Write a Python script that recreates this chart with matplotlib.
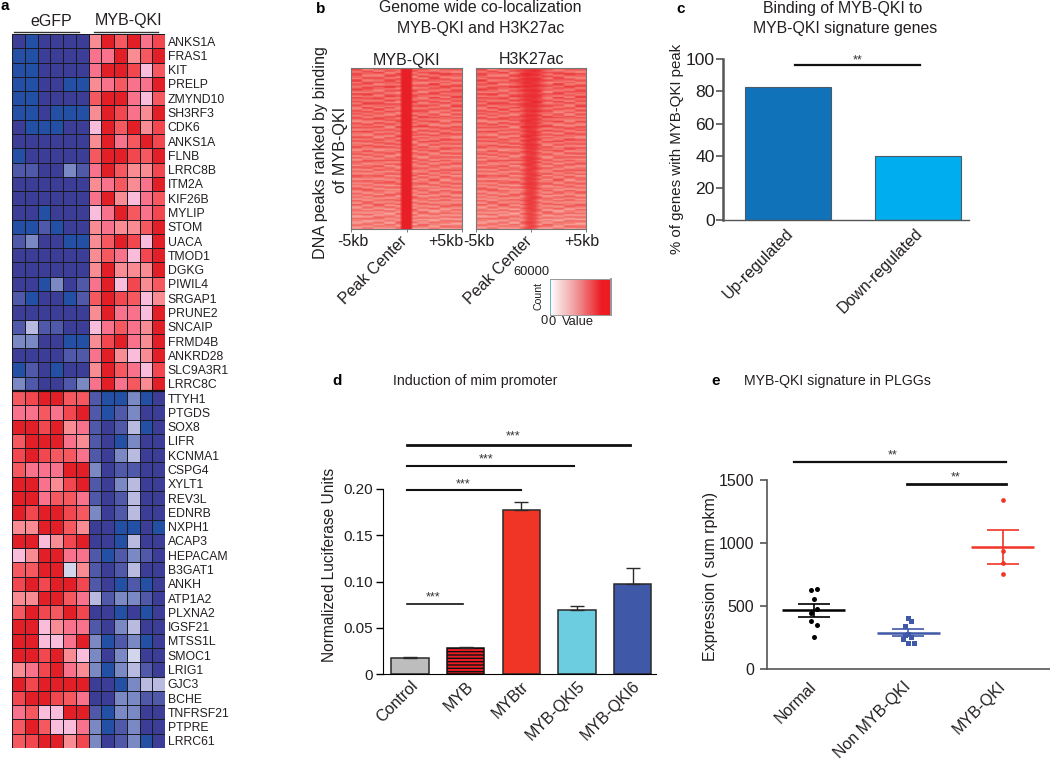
import numpy as np
import matplotlib
matplotlib.use("Agg")
import matplotlib.pyplot as plt
from matplotlib.colors import ListedColormap, LinearSegmentedColormap
from matplotlib.transforms import ScaledTranslation

plt.rcParams['font.family'] = ['Liberation Sans', 'DejaVu Sans']
plt.rcParams['hatch.linewidth'] = 1.0
W, H = 1050, 763
TXT = '#231f20'

genes = ["ANKS1A","FRAS1","KIT","PRELP","ZMYND10","SH3RF3","CDK6","ANKS1A","FLNB","LRRC8B",
         "ITM2A","KIF26B","MYLIP","STOM","UACA","TMOD1","DGKG","PIWIL4","SRGAP1","PRUNE2",
         "SNCAIP","FRMD4B","ANKRD28","SLC9A3R1","LRRC8C","TTYH1","PTGDS","SOX8","LIFR","KCNMA1",
         "CSPG4","XYLT1","REV3L","EDNRB","NXPH1","ACAP3","HEPACAM","B3GAT1","ANKH","ATP1A2",
         "PLXNA2","IGSF21","MTSS1L","SMOC1","LRIG1","GJC3","BCHE","TNFRSF21","PTPRE","LRRC61"]
heat_up = [
 [-5,-6,-5,-5,-5,-5, 2,6,4,6,3,5],[-6,-6,-5,-5,-5,-5, 3,3,6,2,4,6],[-6,-6,-5,-5,-5,-5, 3,6,6,5,1,4],
 [-6,-6,-5,-5,-6,-6, 2,3,4,3,3,6],[-6,-6,-5,-5,-5,-5, 4,6,6,3,1,4],[-6,-6,-5,-6,-6,-6, 2,6,5,3,2,6],
 [-5,-6,-6,-6,-5,-5, 1,6,4,6,2,5],[-5,-5,-5,-5,-5,-5, 2,6,3,4,6,5],[-6,-5,-5,-5,-5,-5, 4,6,6,5,4,6],
 [-4,-4,-5,-5,-3,-4, 3,6,4,2,2,5],[-5,-5,-5,-5,-5,-5, 2,3,4,2,3,6],[-5,-5,-5,-5,-5,-5, 3,6,2,1,3,4],
 [-5,-5,-6,-5,-5,-5, 1,3,6,4,3,5],[-6,-6,-4,-6,-5,-5, 2,3,2,2,4,6],[-4,-3,-5,-5,-6,-6, 2,4,6,5,1,6],
 [-5,-5,-5,-5,-5,-5, 2,4,3,1,5,6],[-5,-5,-5,-5,-5,-5, 2,6,2,2,2,6],[-5,-5,-6,-3,-5,-4, 3,6,1,5,2,4],
 [-4,-6,-5,-5,-6,-4, 4,6,5,4,1,2],[-5,-5,-5,-5,-5,-5, 2,6,3,3,1,6],[-4,-2,-4,-4,-5,-5, 1,3,4,3,2,6],
 [-3,-3,-5,-5,-6,-6, 2,5,6,3,2,6],[-5,-5,-5,-5,-4,-4, 3,6,2,1,2,6],[-6,-4,-5,-6,-5,-5, 2,6,4,3,1,5],
 [-3,-4,-5,-5,-4,-3, 3,6,3,4,2,6]]
heat_down = [
 [4,5,6,6,4,4,-4,-6,-6,-3,-6,-5],[3,3,4,3,5,6,-4,-6,-4,-3,-5,-5],[6,6,5,6,2,3,-4,-5,-4,-2,-6,-5],
 [4,6,6,6,3,2,-4,-5,-6,-3,-5,-5],[5,6,5,4,4,3,-4,-5,-3,-2,-5,-5],[4,3,3,3,6,6,-3,-5,-4,-4,-5,-5],
 [6,6,3,2,5,6,-4,-5,-3,-2,-5,-5],[6,6,3,4,4,3,-4,-5,-4,-2,-5,-5],[6,5,6,6,5,4,-3,-5,-4,-2,-5,-5],
 [2,2,6,6,4,2,-5,-5,-6,-6,-5,-6],[6,6,1,2,5,6,-5,-5,-6,-2,-5,-5],[1,2,6,6,3,3,-4,-6,-4,-3,-4,-5],
 [4,4,6,6,-1,2,-4,-5,-4,-2,-5,-5],[5,6,5,6,6,5,-4,-5,-6,-4,-6,-5],[2,2,6,6,4,3,-2,-4,-3,-3,-4,-5],
 [4,6,5,4,6,5,-5,-5,-6,-5,-6,-5],[6,6,1,2,3,3,-4,-5,-3,-2,-5,-5],[6,6,1,1,3,6,-3,-6,-4,-3,-6,-5],
 [6,6,5,6,2,1,-3,-5,-3,-1,-5,-5],[2,3,5,6,3,2,-3,-6,-3,-2,-4,-5],[6,5,6,6,6,6,-5,-5,-6,-3,-2,-2],
 [5,6,6,5,4,3,-5,-5,-3,-3,-4,-4],[3,4,1,1,6,6,-4,-6,-3,-3,-5,-5],[4,6,4,1,1,3,-3,-6,-4,-3,-5,-5],
 [4,5,6,6,2,5,-3,-5,-4,-3,-6,-5]]
heat_colors = ['#2350a5','#3b3d96','#5059a9','#7a88c3','#b9badf','#d2d6ec','#ffffff',
               '#f9bddb','#f98b93','#f7728a','#f5595f','#f3474f','#e21f27']

# panel b: hand-read texture of the signal maps
row_streak = [.05,-.04,.07,.00,-.06,.08,.02,-.05,.06,-.02,.09,-.07,.03,.06,-.05,.01,
              -.08,.05,.07,-.03,.02,-.09,.06,.00,-.05,.08,-.02,.04,-.07,.05,-.01,.07,
              -.06,.02,.08,-.04,-.08,.05,.00,.06,-.07,.03,-.03,.07,-.09,.04,.01,-.05,
              .06,-.08,.02,.05,-.06,-.02,.07,-.10,.03,-.05,.04,-.09,.01,-.07,.03,-.08]
row_level = [.74,.73,.71,.70,.68,.67,.65,.62]
col_shift = [0,0,0,0,11,11,11,11,23,23,23,23,5,5,5,5,37,37,37,37,
             17,17,17,17,29,29,29,29,3,3,3,3,47,47,47,47,13,13,13,13]
myb_peak = [0,0,0,0,0,0,0,0,0,0,0,0,0,0,0,0,0,.3,1,1,1,1,.3,0,0,0,0,0,0,0,0,0,0,0,0,0,0,0,0,0]
h3_halfwidth = [4.2,3.8,3.2,2.8,2.6,2.6,2.4,2.2]
h3_strength = [.93,.92,.91,.91,.90,.89,.88,.85]

c_labels = ["Up-regulated","Down-regulated"]
c_values = [82.8,40]
c_colors = ['#1072b9','#00aeef']

d_labels = ["Control","MYB","MYBtr","MYB-QKI5","MYB-QKI6"]
d_values = [0.018,0.0285,0.177,0.069,0.098]
d_errors = [0.001,0.0015,0.009,0.0047,0.0165]
d_colors = ['#bdbdbd','#ed1c24','#f03526','#6dcde0','#3f59a8']

e_labels = ["Normal","Non MYB-QKI","MYB-QKI"]
e_normal = [630,636,552,476,442,380,347,252]
e_normal_dx = [-.03,.03,0,.03,-.03,-.03,.03,0]
e_non = [408,381,338,269,274,255,240,206,206]
e_non_dx = [0,.03,-.03,-.03,0,.03,-.06,0,.06]
e_myb = [1340,936,841,754]
e_means = [466,286,968]
e_err_lo = [415,262,836]
e_err_hi = [516,317,1100]
e_colors = ['#000000','#3f59a8','#f03526']

fig = plt.figure(figsize=(W/100, H/100), dpi=100, facecolor='white')

def axpx(x0, y0, x1, y1):
    return fig.add_axes([x0/W, 1-y1/H, (x1-x0)/W, (y1-y0)/H])

def label(x, y, s, size, **kw):
    kw.setdefault('ha', 'center'); kw.setdefault('va', 'center'); kw.setdefault('color', TXT)
    return fig.text(x/W, 1-y/H, s, fontsize=size, **kw)

def shift_labels(ax, px):
    off = ScaledTranslation(px/100, 0, fig.dpi_scale_trans)
    for lab in ax.get_xticklabels():
        lab.set_transform(lab.get_transform() + off)

# ---------- a
ax = axpx(12, 34, 165, 748)
z = np.array(heat_up + heat_down)
ax.pcolormesh(np.arange(13), np.arange(51), z, cmap=ListedColormap(heat_colors), vmin=-6.5, vmax=6.5,
              edgecolors='#1a1a24', linewidth=0.72)
ax.hlines(len(heat_up), 0, 12, color='#111111', lw=1.6)
ax.set_ylim(50, 0); ax.set_xlim(0, 12)
ax.set_xticks([])
ax.yaxis.tick_right()
ax.set_yticks(np.arange(50)+.5, genes, fontsize=8.8, color=TXT)
ax.tick_params(axis='y', length=0, pad=2)
for s in ax.spines.values():
    s.set_visible(False)
label(5, 6, 'a', 11, fontweight='bold', color='black', ha='center')
label(51, 21, 'eGFP', 11.5)
label(129, 21, 'MYB-QKI', 11.5)
for a, b in [(14, 79), (94, 158)]:
    fig.add_artist(plt.Line2D([a/W, b/W], [1-32/H]*2, color='#333333', lw=1))

# ---------- b
cm = LinearSegmentedColormap.from_list('r', ['#ffffff', '#f9c3bd', '#f4746d', '#e81f27'])
streak_a = np.array(row_streak)
streak_b = -streak_a[::-1]
streak = np.ravel(np.column_stack([streak_a, streak_b]))
nrow, ncol = len(streak), len(col_shift)
level = np.repeat(row_level, nrow//len(row_level))
tex = np.column_stack([np.roll(streak, s) for s in col_shift])
base = level[:, None] + tex*1.6
m1 = np.maximum(base, np.array(myb_peak)[None, :])
cols = np.arange(ncol)
hw = np.repeat(h3_halfwidth, nrow//len(h3_halfwidth))[:, None]
st = np.repeat(h3_strength, nrow//len(h3_strength))[:, None]
shape = np.clip(1.5-np.abs(cols[None, :]-19.5)/hw, 0, 1)
m2 = base*(1-shape) + (st+tex*.4)*shape
for (x0, x1), m, name, ticks in [((351, 462), m1, 'MYB-QKI', (353, 446)), ((476, 586), m2, 'H3K27ac', (479, 582))]:
    ax = axpx(x0, 68, x1, 229)
    ax.imshow(m, aspect='auto', cmap=cm, vmin=0, vmax=1, interpolation='bilinear', extent=[0, 1, 1, 0])
    ax.set_xticks([0, .5, 1], ['', '', ''])
    ax.set_yticks([])
    ax.tick_params(axis='x', length=2, width=.6, color='#666666')
    for s in ax.spines.values():
        s.set_color('#777777'); s.set_linewidth(.8)
    label((x0+x1)/2, 60, name, 11.5)
    label(ticks[0], 242, '-5kb', 11.5)
    label(ticks[1], 242, '+5kb', 11.5)
    label((x0+x1)/2-7, 234, 'Peak Center', 11.5, rotation=45, ha='right', va='top', rotation_mode='anchor')
label(480, 8, 'Genome wide co-localization', 11.4)
label(481, 28, 'MYB-QKI and H3K27ac', 11.4)
label(321, 153, 'DNA peaks ranked by binding', 11.6, rotation=90)
label(340, 150, 'of MYB-QKI', 11.6, rotation=90)
label(321, 9, 'b', 11, fontweight='bold', color='black')

cb = axpx(550, 279, 611, 315)
grad = np.linspace(0, 1.18, 256).clip(0, 1)[None, :]
cb.imshow(grad, aspect='auto', cmap=LinearSegmentedColormap.from_list('c', ['#ffffff', '#f09a9c', '#ed1c24']), vmin=0, vmax=1)
cb.set_xticks([]); cb.set_yticks([])
for s in cb.spines.values():
    s.set_color('#999999'); s.set_linewidth(.7)
cb.spines['left'].set_color('#5fb7c4')
cb.spines['right'].set_linewidth(1.4)
label(550, 272, '60000', 9.3, ha='right')
label(539, 296, 'Count', 7.6, rotation=90)
label(544, 321, '0', 9.3)
label(552, 322, '0', 9.3)
label(578, 322, 'Value', 9.3)

# ---------- c
ax = axpx(723.3, 59, 969, 220.3)
ax.bar(range(2), c_values, width=.664, color=c_colors, edgecolor='#4a5a66', linewidth=.8)
ax.set_xlim(-.5, 1.39); ax.set_ylim(0, 100)
ax.set_yticks(range(0, 101, 20))
ax.tick_params(axis='y', labelsize=12.6, length=5, width=1.2, color='#555555', labelcolor=TXT, pad=1)
ax.set_xticks(range(2), c_labels, rotation=45, ha='right', rotation_mode='anchor', fontsize=11.5, color=TXT)
ax.tick_params(axis='x', length=0, pad=4)
shift_labels(ax, -3)
for s in ('top', 'right'):
    ax.spines[s].set_visible(False)
ax.spines['left'].set_color('#555555'); ax.spines['left'].set_linewidth(1.8)
ax.spines['bottom'].set_color('#555555'); ax.spines['bottom'].set_linewidth(1)
ax.plot([.05, 1.01], [96.3, 96.3], color='#111111', lw=1.6, clip_on=False)
ax.text(.53, 95.5, '**', ha='center', va='bottom', fontsize=9, color='#333333', clip_on=False)
ax.set_ylabel('% of genes with MYB-QKI peak', fontsize=10.8, color=TXT)
ax.yaxis.set_label_coords(-.16, .44)
label(681, 9, 'c', 11, fontweight='bold', color='black')
label(843, 8, 'Binding of MYB-QKI to', 11.4)
label(845, 28, 'MYB-QKI signature genes', 11.4)

# ---------- d
ax = axpx(382.7, 489, 656, 674.3)
bars = ax.bar(range(5), d_values, width=.672, color=d_colors, edgecolor='#2a2a2a', linewidth=1.1,
              yerr=[[0]*5, d_errors], error_kw=dict(ecolor='#2a2a2a', elinewidth=1, capsize=5, capthick=1))
bars[1].set_hatch('-----'); bars[1].set_edgecolor('#111111')
ax.set_xlim(-.49, 4.42); ax.set_ylim(0, .2)
ax.set_yticks([0, .05, .1, .15, .2], ['0', '0.05', '0.10', '0.15', '0.20'])
ax.tick_params(axis='y', labelsize=11, length=5, width=1, labelcolor=TXT, pad=2)
ax.set_xticks(range(5), d_labels, rotation=45, ha='right', rotation_mode='anchor', fontsize=11.5, color=TXT)
ax.tick_params(axis='x', length=0, pad=3)
for s in ('top', 'right'):
    ax.spines[s].set_visible(False)
ax.set_ylabel('Normalized Luciferase Units', fontsize=11.2, color=TXT)
ax.yaxis.set_label_coords(-.166, .59)
for x1, y, lw in [(.95, .0755, 1.2), (2, .1986, 1.5), (2.95, .2245, 1.5), (3.96, .247, 2)]:
    ax.plot([-.06, x1], [y, y], color='#111111', lw=lw, clip_on=False)
for x, y, dy in [(.42, .0755, 0), (.95, .1986, -.0005), (1.37, .2245, 0), (1.86, .247, .003)]:
    ax.text(x, y+.0005+dy, '***', ha='center', va='bottom', fontsize=9, color='#333333', clip_on=False)
label(475, 381, 'Induction of mim promoter', 10.2)
label(337, 381, 'd', 11, fontweight='bold', color='black')

# ---------- e
ax = axpx(767, 480, 1050, 669)
for i, (vals, dx, mk, ms) in enumerate([(e_normal, e_normal_dx, 'o', 3.6), (e_non, e_non_dx, 's', 3.6), (e_myb, [0]*4, 'o', 3.4)]):
    c = e_colors[i]
    ax.plot(i+np.array(dx), vals, mk, color=c, ms=ms, mew=0, linestyle='none')
    ax.hlines(e_means[i], i-.335, i+.335, color=c, lw=1.8)
    ax.hlines([e_err_lo[i], e_err_hi[i]], i-.17, i+.17, color=c, lw=1.2)
    ax.vlines(i, e_err_lo[i], e_err_hi[i], color=c, lw=1.2)
ax.set_xlim(-.496, 2.5); ax.set_ylim(0, 1500)
ax.set_yticks([0, 500, 1000, 1500])
ax.tick_params(axis='y', labelsize=11.5, length=5, width=1.2, color='#555555', labelcolor=TXT, pad=4)
ax.set_xticks(range(3), e_labels, rotation=45, ha='right', rotation_mode='anchor', fontsize=11.5, color=TXT)
ax.tick_params(axis='x', length=0, pad=7)
shift_labels(ax, -5)
for s in ('top', 'right'):
    ax.spines[s].set_visible(False)
for s in ('left', 'bottom'):
    ax.spines[s].set_color('#555555'); ax.spines[s].set_linewidth(1.2)
ax.set_ylabel('Expression ( sum rpkm)', fontsize=11.5, color=TXT)
ax.yaxis.set_label_coords(-.173, .49)
ax.plot([-.205, 2.035], [1645, 1645], color='#111111', lw=1.6, clip_on=False)
ax.plot([.985, 2.035], [1466, 1466], color='#111111', lw=2, clip_on=False)
ax.text(.83, 1645, '**', ha='center', va='bottom', fontsize=9, color='#333333', clip_on=False)
ax.text(1.5, 1475, '**', ha='center', va='bottom', fontsize=9, color='#333333', clip_on=False)
label(837, 381, 'MYB-QKI signature in PLGGs', 10.2)
label(716, 381, 'e', 11, fontweight='bold', color='black')

fig.savefig('out.png', dpi=100)
